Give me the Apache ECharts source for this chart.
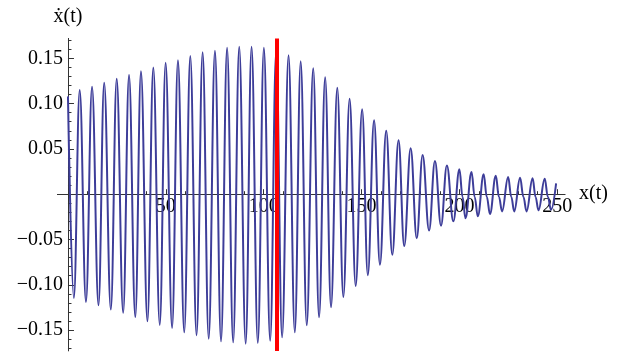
<!DOCTYPE html>
<html><head><meta charset="utf-8">
<script src="https://cdn.jsdelivr.net/npm/echarts@6/dist/echarts.min.js"></script>
<style>html,body{margin:0;padding:0;background:#fff}#c{width:621px;height:358px}</style>
</head><body><div id="c"></div>
<script>
// positions along x(t) of the curve's turning points
const xPos = [
  0, 3.0, 6.0, 9.2, 12.3, 15.6, 18.5, 21.9, 24.9, 28.2, 31.2, 34.4, 37.3, 40.6, 43.6, 46.9, 49.9,
  53.2, 56.2, 59.4, 62.5, 65.7, 68.8, 71.9, 75.1, 78.2, 81.3, 84.4, 87.5, 90.8, 93.8, 97.0, 100.1,
  103.3, 106.4, 109.4, 112.7, 115.9, 118.9, 122.0, 125.3, 128.3, 131.4, 134.4, 137.6, 140.7, 143.9,
  147.0, 150.3, 153.2, 156.4, 159.4, 162.6, 165.7, 168.9, 171.8, 175.1, 178.2, 181.2, 184.5, 187.5,
  190.6, 193.6, 196.9, 200.0, 201.6, 203.1, 206.2, 207.8, 209.4, 212.4, 214.0, 215.6, 218.6, 220.2,
  221.8, 224.9, 226.5, 228.0, 231.0, 232.7, 234.3, 237.4, 238.9, 240.4, 243.6, 245.2, 246.8, 249.4
];
// ẋ(t) values at those points
const xDot = [
  0.108, -0.1146, 0.115, -0.119, 0.1187, -0.1227, 0.123, -0.1274, 0.1274, -0.131, 0.1315, -0.1356, 0.1358, -0.1403, 0.140, -0.1444, 0.1452,
  -0.1477, 0.148, -0.1525, 0.1525, -0.1558, 0.1566, -0.1595, 0.1584, -0.1624, 0.1617, -0.1635, 0.1628, -0.165, 0.1628, -0.1642, 0.1617,
  -0.1617, 0.1584, -0.158, 0.1533, -0.1525, 0.1467, -0.1447, 0.139, -0.1359, 0.129, -0.1248, 0.1176, -0.1135, 0.1054,
  -0.1013, 0.0937, -0.0895, 0.0815, -0.0778, 0.0701, -0.0668, 0.0595, -0.0572, 0.0507, -0.0487, 0.0433, -0.040, 0.0366,
  -0.0347, 0.0317, -0.030, 0.0275, -0.003, -0.0265, 0.0245, -0.003, -0.0244, 0.022, -0.003, -0.0219, 0.0204, -0.003,
  -0.019, 0.019, -0.003, -0.019, 0.0182, -0.003, -0.019, 0.0175, -0.003, -0.0178, 0.017, -0.003, -0.0171, 0.012
];
const xMajorTicks = [50, 100, 150, 200, 250];
const xMinorTicks = [10, 20, 30, 40, 60, 70, 80, 90, 110, 120, 130, 140, 160, 170, 180, 190, 210, 220, 230, 240];
const yMajorTicks = [-0.15, -0.10, -0.05, 0.05, 0.10, 0.15];
const yMinorTicks = [-0.17, -0.16, -0.14, -0.13, -0.12, -0.11, -0.09, -0.08, -0.07, -0.06, -0.04, -0.03, -0.02, -0.01,
  0.01, 0.02, 0.03, 0.04, 0.06, 0.07, 0.08, 0.09, 0.11, 0.12, 0.13, 0.14, 0.16, 0.17];
const markerX = 106.9;
const xName = 'x(t)';
const yName = 'ẋ(t)';

const FONT = "'Liberation Serif','DejaVu Serif',serif";
const AX = '#333';
const TXT = '#000';
const xMin = -5.4, xMax = 254, yMin = -0.173, yMax = 0.172;

// plot frame (pixels)
const L = 57.4, W = 507.7, T = 38.4, H = 312.5;
const zeroX = L + (0 - xMin) / (xMax - xMin) * W;   // pixel of x = 0
const zeroY = T + (yMax - 0) / (yMax - yMin) * H;   // pixel of y = 0

const pts = xPos.map((x, i) => [x, xDot[i]]);
const hiddenAxis = {show: false, splitLine: {show: false}};

const chart = echarts.init(document.getElementById('c'), null, {renderer: 'canvas'});
chart.setOption({
  animation: false,
  backgroundColor: '#fff',
  grid: [
    {left: L, top: T, width: W, height: H, containLabel: false, outerBoundsMode: 'none'},            // data
    {left: L, top: T, width: W, height: zeroY - T, containLabel: false, outerBoundsMode: 'none'},    // x axis at y=0
    {left: zeroX, top: T, width: L + W - zeroX, height: H, containLabel: false, outerBoundsMode: 'none'} // y axis at x=0
  ],
  xAxis: [
    Object.assign({type: 'value', gridIndex: 0, min: xMin, max: xMax}, hiddenAxis),
    {
      type: 'value', gridIndex: 1, min: xMin, max: xMax, position: 'bottom',
      axisLine: {show: true, onZero: false, lineStyle: {color: AX, width: 1}},
      axisTick: {show: true, inside: true, length: 5, customValues: xMajorTicks, lineStyle: {color: AX}},
      axisLabel: {show: true, customValues: xMajorTicks, margin: 3, fontFamily: FONT, fontSize: 20, color: TXT},
      splitLine: {show: false},
      name: xName, nameLocation: 'end', nameGap: 14,
      nameTextStyle: {fontFamily: FONT, fontSize: 20, color: TXT, align: 'left', verticalAlign: 'middle'}
    },
    {
      type: 'value', gridIndex: 1, min: xMin, max: xMax, position: 'bottom',
      axisLine: {show: false, onZero: false},
      axisTick: {show: true, inside: true, length: 3, customValues: xMinorTicks, lineStyle: {color: AX}},
      axisLabel: {show: false},
      splitLine: {show: false}
    },
    Object.assign({type: 'value', gridIndex: 2, min: 0, max: xMax}, hiddenAxis)
  ],
  yAxis: [
    Object.assign({type: 'value', gridIndex: 0, min: yMin, max: yMax}, hiddenAxis),
    Object.assign({type: 'value', gridIndex: 1, min: 0, max: yMax}, hiddenAxis),
    {
      type: 'value', gridIndex: 2, min: yMin, max: yMax, position: 'left',
      axisLine: {show: true, onZero: false, lineStyle: {color: AX, width: 1}},
      axisTick: {show: true, inside: true, length: 6, customValues: yMajorTicks, lineStyle: {color: AX}},
      axisLabel: {show: true, customValues: yMajorTicks, margin: 5, fontFamily: FONT, fontSize: 20, color: TXT,
        formatter: v => (v < 0 ? '\u2212' + (-v).toFixed(2) : v.toFixed(2))},
      splitLine: {show: false},
      name: yName, nameLocation: 'end', nameGap: 12,
      nameTextStyle: {fontFamily: FONT, fontSize: 20, color: TXT, align: 'center'}
    },
    {
      type: 'value', gridIndex: 2, min: yMin, max: yMax, position: 'left',
      axisLine: {show: false, onZero: false},
      axisTick: {show: true, inside: true, length: 3.5, customValues: yMinorTicks, lineStyle: {color: AX}},
      axisLabel: {show: false},
      splitLine: {show: false}
    }
  ],
  series: [{
    type: 'line', xAxisIndex: 0, yAxisIndex: 0, data: pts,
    showSymbol: false, smooth: 0.4, smoothMonotone: 'x',
    lineStyle: {color: '#3d3d99', width: 2},
    clip: false,
    markLine: {
      silent: true, symbol: ['none', 'none'], label: {show: false},
      lineStyle: {color: '#ff0000', width: 4, type: 'solid', opacity: 1},
      emphasis: {disabled: true},
      data: [{xAxis: markerX}]
    }
  }]
});
</script></body></html>
